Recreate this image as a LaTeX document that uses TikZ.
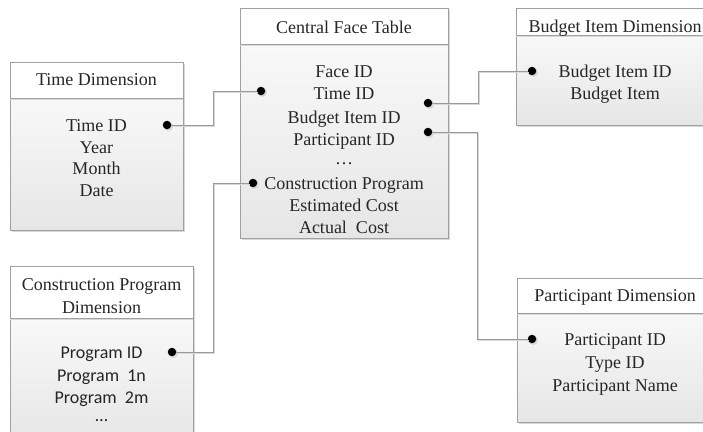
\documentclass[tikz,border=0pt]{standalone}
\usepackage{fontspec}
\IfFontExistsTF{LiberationSerif-Regular.ttf}
  {\setmainfont{LiberationSerif-Regular.ttf}}
  {\setmainfont{Liberation Serif}}
\newfontfamily\calfont{Carlito}
\definecolor{bordergray}{HTML}{A0A0A0}
\definecolor{linegray}{HTML}{9A9A9A}
\definecolor{shadowgray}{HTML}{D8D8D8}
\definecolor{bodybot}{HTML}{E6E6E6}
\definecolor{bodytop}{HTML}{F8F8F8}
\begin{document}
\begin{tikzpicture}[x=1pt,y=-1pt,
  frame/.style={draw=bordergray, line width=0.8pt},
  hdrfill/.style={fill=white},
  bodyfill/.style={top color=bodytop, bottom color=bodybot},
  boxshadow/.style={fill=shadowgray, draw=none},
  lbl/.style={font=\rmfamily\fontsize{18}{22}\selectfont, inner sep=0pt, anchor=base, text=black!85},
  slbl/.style={font=\calfont\fontsize{18}{22}\selectfont, inner sep=0pt, anchor=base, text=black!85},
  dotnode/.style={circle, fill=black, inner sep=0pt, minimum size=8.5pt},
  conn/.style={draw=linegray, line width=0.8pt},
  connshadow/.style={draw=shadowgray, line width=0.8pt}
]
\useasboundingbox (0,0) rectangle (703,431);
\clip (0,0) rectangle (703,431);

% Time Dimension
\fill[boxshadow] (12,64) rectangle (185,232);
\path[bodyfill] (10,98) rectangle (183,230);
\path[hdrfill] (10,62) rectangle (183,98);
\draw[frame] (10,62) rectangle (183,230);
\draw[frame] (10,98) -- (183,98);
\draw[shadowgray] (10,99.5) -- (183,99.5);
\node[lbl] (timeh) at (96.5,85) {Time Dimension};
\node[lbl] (t1) at (96.5,131) {Time ID};
\node[lbl] (t2) at (96.5,153) {Year};
\node[lbl] (t3) at (96.5,174) {Month};
\node[lbl] (t4) at (96.5,196) {Date};

% Central Face Table
\fill[boxshadow] (242,10) rectangle (450,240);
\path[bodyfill] (240,44) rectangle (448,238);
\path[hdrfill] (240,8) rectangle (448,44);
\draw[frame] (240,8) rectangle (448,238);
\draw[frame] (240,44) -- (448,44);
\draw[shadowgray] (240,45.5) -- (448,45.5);
\node[lbl] (ch) at (344,33) {Central Face Table};
\node[lbl] (c1) at (344,77) {Face ID};
\node[lbl] (c2) at (344,99) {Time ID};
\node[lbl] (c3) at (344,123) {Budget Item ID};
\node[lbl] (c4) at (344,145) {Participant ID};
\node[lbl] (c5) at (344,164) {\dots};
\node[lbl] (c6) at (344,189) {Construction Program};
\node[lbl] (c7) at (344,211) {Estimated Cost};
\node[lbl] (c8) at (344,233) {Actual\ \ Cost};

% Budget Item Dimension
\fill[boxshadow] (518,10) rectangle (716,127);
\path[bodyfill] (516,35) rectangle (714,125);
\path[hdrfill] (516,8) rectangle (714,35);
\draw[frame] (516,8) rectangle (714,125);
\draw[frame] (516,35) -- (714,35);
\draw[shadowgray] (516,36.5) -- (714,36.5);
\node[lbl] (bh) at (615,32) {Budget Item Dimension};
\node[lbl] (b1) at (615,77) {Budget Item ID};
\node[lbl] (b2) at (615,99) {Budget Item};

% Participant Dimension
\fill[boxshadow] (519,280) rectangle (716,424);
\path[bodyfill] (517,313) rectangle (714,422);
\path[hdrfill] (517,278) rectangle (714,313);
\draw[frame] (517,278) rectangle (714,422);
\draw[frame] (517,313) -- (714,313);
\draw[shadowgray] (517,314.5) -- (714,314.5);
\node[lbl] (ph) at (615,301) {Participant Dimension};
\node[lbl] (p1) at (615,345) {Participant ID};
\node[lbl] (p2) at (615,368) {Type ID};
\node[lbl] (p3) at (615,391) {Participant Name};

% Construction Program Dimension
\fill[boxshadow] (12,268) rectangle (195,445);
\path[bodyfill] (10,318) rectangle (193,445);
\path[hdrfill] (10,266) rectangle (193,318);
\draw[frame] (10,266) rectangle (193,445);
\draw[frame] (10,318) -- (193,318);
\draw[shadowgray] (10,319.5) -- (193,319.5);
\node[lbl] (ph1) at (101.5,290) {Construction Program};
\node[lbl] (ph2) at (101.5,313) {Dimension};
\node[slbl] (g1) at (101.5,358) {Program ID};
\node[slbl] (g2) at (101.5,381) {Program\ \ 1n};
\node[slbl] (g3) at (101.5,403) {Program\ \ 2m};
\node[slbl] (g4) at (101.5,421) {\dots};

% dots
\foreach \x/\y in {167/125, 261/91, 428/103, 428/132, 253/183, 532/71, 532/339, 172/352}
  \fill[shadowgray] (\x+1.5,\y+1.5) circle (4.5pt);
\node[dotnode] (dt) at (167,125) {};
\node[dotnode] (dct) at (261,91) {};
\node[dotnode] (dcb) at (428,103) {};
\node[dotnode] (dcp) at (428,132) {};
\node[dotnode] (dcc) at (253,183) {};
\node[dotnode] (db) at (532,71) {};
\node[dotnode] (dp) at (532,339) {};
\node[dotnode] (dg) at (172,352) {};

% connectors
\coordinate (k1) at (213,125);
\coordinate (k2) at (478,103);
\coordinate (k3) at (477,132);
\coordinate (k4) at (213,352);

\draw[connshadow] ([shift={(1.5,1.5)}]dt.east) -- ([shift={(1.5,1.5)}]k1) |- ([shift={(1.5,1.5)}]dct.west);
\draw[connshadow] ([shift={(1.5,1.5)}]dcb.east) -- ([shift={(1.5,1.5)}]k2) |- ([shift={(1.5,1.5)}]db.west);
\draw[connshadow] ([shift={(1.5,1.5)}]dcp.east) -- ([shift={(1.5,1.5)}]k3) |- ([shift={(1.5,1.5)}]dp.west);
\draw[connshadow] ([shift={(1.5,1.5)}]dg.east) -- ([shift={(1.5,1.5)}]k4) |- ([shift={(1.5,1.5)}]dcc.west);

\draw[conn] (dt.east) -- (k1) |- (dct.west);
\draw[conn] (dcb.east) -- (k2) |- (db.west);
\draw[conn] (dcp.east) -- (k3) |- (dp.west);
\draw[conn] (dg.east) -- (k4) |- (dcc.west);
\end{tikzpicture}
\end{document}
